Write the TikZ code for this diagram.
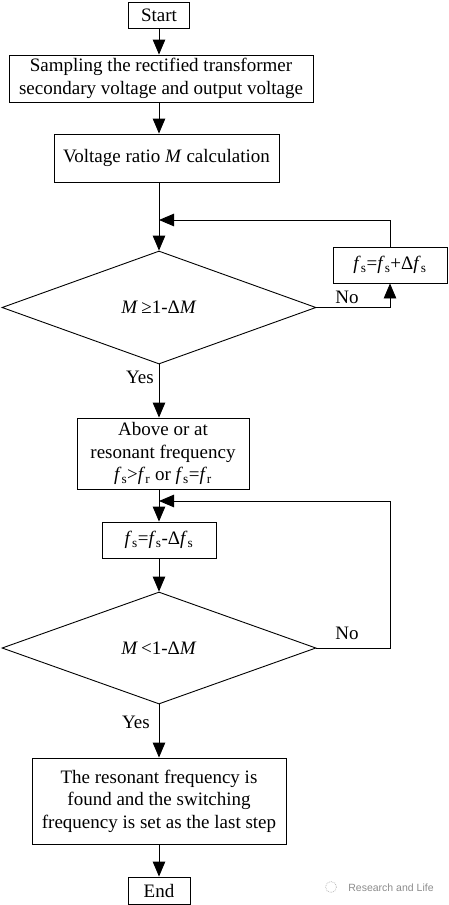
\documentclass[tikz,border=0pt]{standalone}
\usepackage{fontspec}
\setmainfont{Liberation Serif}
\newfontfamily\wmfont{Liberation Sans}
\usetikzlibrary{arrows.meta,shapes.geometric}
\begin{document}
\begin{tikzpicture}[x=1pt,y=-1pt,
  txt/.style={font=\fontsize{19}{22.5}\selectfont},
  box/.style={draw,line width=0.9pt,inner sep=0pt,align=center,txt},
  dec/.style={draw,diamond,line width=0.9pt,inner sep=0pt,txt},
  conn/.style={line width=0.9pt,-{Triangle[length=15pt,width=12.5pt]}},
  lab/.style={txt,inner sep=0pt}]
\useasboundingbox (0,0) rectangle (449,905);
\node[box,minimum width=61pt,minimum height=26pt] (start) at (159,15) {Start};
\node[box,minimum width=304pt,minimum height=47pt] (samp) at (161,78.5) {Sampling the rectified transformer\\secondary voltage and output voltage};
\node[box,minimum width=225pt,minimum height=48pt] (volt) at (166.5,158) {Voltage ratio \textit{M} calculation};
\node[dec,minimum width=314pt,minimum height=113pt] (d1) at (159,307.5) {\textit{M}\,≥1-Δ\textit{M}};
\node[box,minimum width=114pt,minimum height=36pt] (fs1) at (390,265) {\textit{f}\textsubscript{s}=\textit{f}\textsubscript{s}+Δ\textit{f}\textsubscript{s}};
\node[box,minimum width=172pt,minimum height=71pt] (above) at (163,453.5) {Above or at\\resonant frequency\\\textit{f}\textsubscript{s}>\textit{f}\textsubscript{r} or \textit{f}\textsubscript{s}=\textit{f}\textsubscript{r}};
\node[box,minimum width=114pt,minimum height=36pt] (fs2) at (159,540) {\textit{f}\textsubscript{s}=\textit{f}\textsubscript{s}-Δ\textit{f}\textsubscript{s}};
\node[dec,minimum width=314pt,minimum height=112pt] (d2) at (159,648) {\textit{M}\,<1-Δ\textit{M}};
\node[box,minimum width=254pt,minimum height=86pt] (last) at (159,801) {The resonant frequency is\\found and the switching\\frequency is set as the last step};
\node[box,minimum width=62pt,minimum height=27pt] (end) at (159,890.5) {End};
\node[lab] (yes1) at (140,377) {Yes};
\node[lab] (yes2) at (136,722) {Yes};
\node[lab] (no1) at (347,297) {No};
\node[lab] (no2) at (347,633) {No};
\coordinate (m1) at (159,220);
\coordinate (m2) at (159,501);
\coordinate (r2) at (390,648);
\draw[conn] (start.south) -- (start.south |- samp.north);
\draw[conn] (samp.south -| start) -- (volt.north -| start);
\draw[conn] (volt.south -| start) -- (d1.north);
\draw[conn] (fs1.north) |- (m1);
\draw[conn] (d1.east) -| (fs1.south);
\draw[conn] (d1.south) -- (d1.south |- above.north);
\draw[conn] (above.south -| start) -- (fs2.north);
\draw[conn] (d2.east) -- (r2) |- (m2);
\draw[conn] (fs2.south) -- (d2.north);
\draw[conn] (d2.south) -- (d2.south |- last.north);
\draw[conn] (last.south) -- (end.north);
\draw[gray!50,densely dotted,line width=0.8pt] (331,887) circle (5.5);
\node[font=\wmfont\fontsize{10.5}{12}\selectfont,text=gray!90,inner sep=0pt] (wm) at (391,888) {Research and Life};
\end{tikzpicture}
\end{document}
